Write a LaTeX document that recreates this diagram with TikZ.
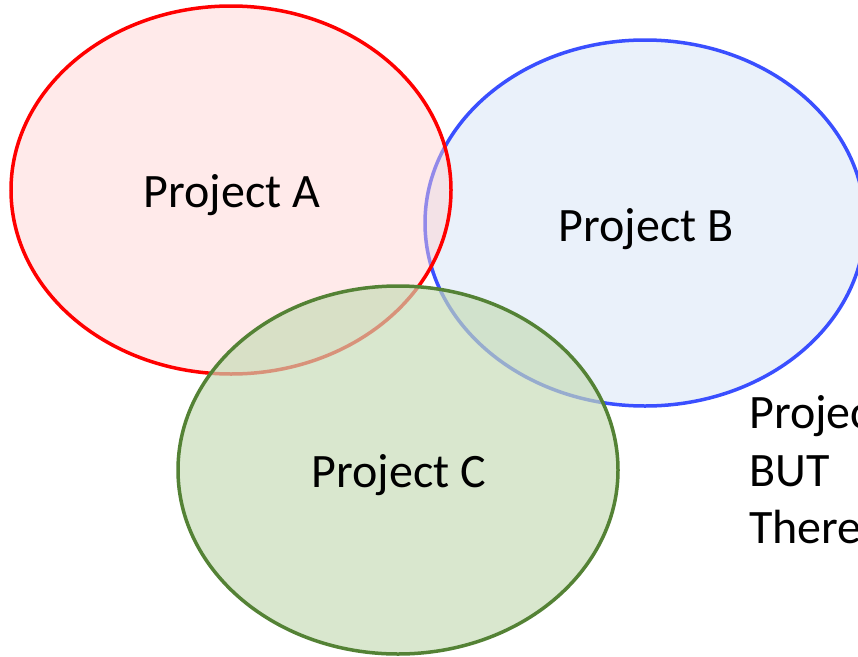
\documentclass[tikz,border=0pt]{standalone}
\usepackage{fontspec}
\setmainfont{Carlito}
\begin{document}
\begin{tikzpicture}[x=1pt,y=-1pt,
  lbl/.style={font=\fontsize{48}{58}\selectfont, inner sep=0pt},
  side/.style={font=\fontsize{48}{58}\selectfont, inner sep=0pt, anchor=base west}]
\definecolor{redline}{HTML}{FF0000}
\definecolor{blueline}{HTML}{3A4FFF}
\definecolor{greenline}{HTML}{548235}
\definecolor{pinkfill}{HTML}{FFD0D0}
\definecolor{bluefill}{HTML}{EAF1FA}
\definecolor{greenfill}{HTML}{C6DBB6}
\useasboundingbox (0,0) rectangle (858,656);
% B (bottom)
\draw[blueline, line width=3.5pt, fill=bluefill] (645,223) ellipse [x radius=220, y radius=183];
% A
\draw[redline, line width=3.5pt, fill=pinkfill, fill opacity=0.45] (231,190) ellipse [x radius=220, y radius=184];
% C
\draw[greenline, line width=3.5pt, fill=greenfill, fill opacity=0.67] (398,470) ellipse [x radius=220, y radius=184];
\node[lbl] (a) at (232,195) {Project A};
\node[lbl] (b) at (646,229) {Project B};
\node[lbl] (c) at (399,475) {Project C};
\node[side] (t1) at (749,428) {Projec};
\node[side] (t2) at (749,486) {BUT};
\node[side] (t3) at (749,543) {There};
\end{tikzpicture}
\end{document}
